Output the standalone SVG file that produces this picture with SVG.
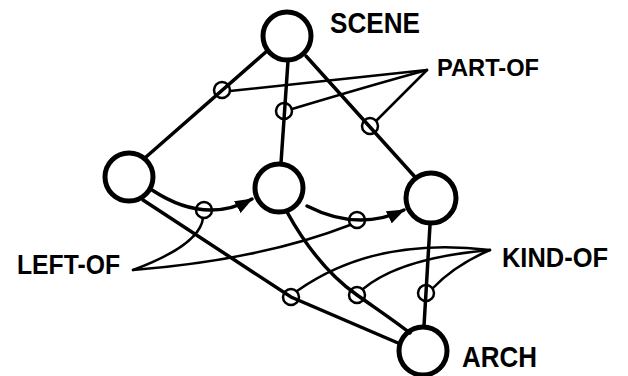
<svg xmlns="http://www.w3.org/2000/svg" width="628" height="376" viewBox="0 0 628 376">
<style>
.node{fill:none;stroke:#000;stroke-width:5}
.edge{fill:none;stroke:#000;stroke-width:3.5;stroke-linecap:round}
.mark{fill:none;stroke:#000;stroke-width:2.5}
.lbl{fill:none;stroke:#000;stroke-width:2.5;stroke-linecap:round}
text{font-family:"Liberation Sans",Arial,sans-serif;font-weight:bold;fill:#000}
</style>
<defs>
<marker id="arr" markerUnits="userSpaceOnUse" markerWidth="18" markerHeight="14" refX="15" refY="6" orient="auto" viewBox="0 0 16 12">
<path d="M0,0 L16,6 L0,12 Z" fill="#000"/>
</marker>
</defs>
<rect width="628" height="376" fill="#fff"/>
<g id="connectors">
<path class="edge" d="M267,51 L146,157"/>
<path class="edge" d="M288,61 L281,163"/>
<path class="edge" d="M306,56 L415,177"/>
<path class="edge" d="M143,200 L291,297 L398,343"/>
<path class="edge" d="M287,212 C308,250 330,276 357,295 S396,322 410,333"/>
<path class="edge" d="M430,225 L424,326"/>
<path class="edge" d="M152,190 Q205,225 252,199" marker-end="url(#arr)"/>
<path class="edge" d="M307,206 Q358,232 404,210" marker-end="url(#arr)"/>
<circle class="mark" cx="222" cy="90" r="8"/>
<circle class="mark" cx="284" cy="111" r="8"/>
<circle class="mark" cx="370" cy="126" r="8"/>
<circle class="mark" cx="204" cy="210" r="8"/>
<circle class="mark" cx="357" cy="220" r="8"/>
<circle class="mark" cx="291" cy="297" r="8"/>
<circle class="mark" cx="357" cy="295" r="8"/>
<circle class="mark" cx="426" cy="293" r="8"/>
<path class="lbl" d="M427,70 L230,91"/>
<path class="lbl" d="M427,70 Q372,85 292,109"/>
<path class="lbl" d="M427,70 L377,120"/>
<path class="lbl" d="M133,270 Q200,245 203,218"/>
<path class="lbl" d="M133,270 Q260,260 350,225"/>
<path class="lbl" d="M490,250 Q375,236 297,291"/>
<path class="lbl" d="M490,250 Q400,258 363,289"/>
<path class="lbl" d="M490,250 Q455,265 433,288"/>
</g>
<g id="scene"><circle class="node" cx="287" cy="36" r="24"/><text x="330" y="33" font-size="29" textLength="90" lengthAdjust="spacingAndGlyphs">SCENE</text></g>
<g id="left"><circle class="node" cx="129" cy="177" r="24"/></g>
<g id="middle"><circle class="node" cx="279" cy="188" r="24"/></g>
<g id="right"><circle class="node" cx="431" cy="198" r="25"/></g>
<g id="arch"><circle class="node" cx="423" cy="351" r="24"/><text x="462" y="367" font-size="30" textLength="75" lengthAdjust="spacingAndGlyphs">ARCH</text></g>
<g id="part-of"><text x="437" y="76" font-size="24" textLength="102" lengthAdjust="spacingAndGlyphs">PART-OF</text></g>
<g id="left-of"><text x="17" y="274" font-size="28" textLength="103" lengthAdjust="spacingAndGlyphs">LEFT-OF</text></g>
<g id="kind-of"><text x="502" y="267" font-size="28" textLength="106" lengthAdjust="spacingAndGlyphs">KIND-OF</text></g>
</svg>
